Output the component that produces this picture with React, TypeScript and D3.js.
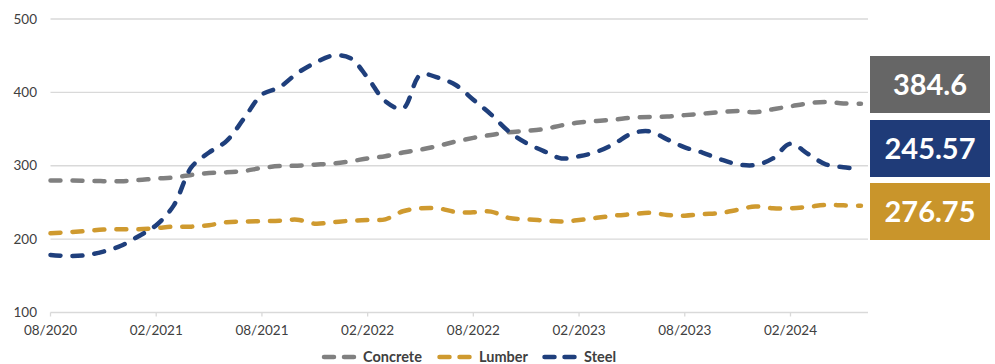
import React from "react";
import * as d3 from "d3";

// Monthly index values, 08/2020 through 06/2024
const startMonth = new Date(2020, 7, 1);
const concrete = [
  280, 280, 279.5, 279, 279, 280.5, 282.5, 284, 287.5, 290, 291, 293, 297, 299.5, 300, 301.5,
  303, 306, 310, 313, 318, 322, 327, 333, 338, 342, 345.5, 347.5, 350, 355, 359, 361,
  363, 365.5, 366.5, 367, 369, 371, 373, 374.5, 373, 377, 381, 385, 387, 385, 384.6,
];
const lumber = [
  208, 209.5, 211, 213, 213.5, 213.5, 215, 217, 217, 219, 223, 224, 224.5, 225, 226.5, 221,
  223, 225, 226, 227, 238, 242, 242, 237, 236.5, 237.5, 229, 227, 225.5, 224, 226, 229,
  232, 234, 236, 233, 232, 234, 235.5, 240, 244.5, 242, 242, 244, 246.5, 246, 245.57,
];
const steel = [
  178.5, 177, 178, 183, 191, 204, 219, 246, 298, 318, 334, 365, 397, 407, 426, 440,
  450, 447, 420, 388, 378, 424, 420, 410, 390, 370, 347, 331, 320, 310, 313, 319,
  330, 344, 347, 336, 325, 318, 309, 302, 301, 310, 330, 316, 302, 298, 295.5,
];

const seriesNames = ["Concrete", "Lumber", "Steel"];
const seriesColors = ["#808080", "#cf9a2f", "#1f3f7c"];
const yTicks = [100, 200, 300, 400, 500];
const xTickMonths = [0, 6, 12, 18, 24, 30, 36, 42];

// Callout boxes on the right
const calloutLabels = ["384.6", "245.57", "276.75"];
const calloutColors = ["#666666", "#1f3b78", "#c9952b"];

const W = 995;
const H = 364;
const FONT = "Lato, 'Open Sans', sans-serif";

function monthLabel(i: number) {
  const d = d3.timeMonth.offset(startMonth, i);
  return d3.timeFormat("%m/%Y")(d);
}

export default function App() {
  const x = d3.scaleLinear().domain([0, 46.4]).range([50.5, 868]);
  const y = d3.scaleLinear().domain([100, 500]).range([312.5, 19]);

  const line = d3
    .line<number>()
    .x((_, i) => x(i))
    .y((v) => y(v))
    .curve(d3.curveCatmullRom.alpha(0.5));

  const data = [concrete, lumber, steel];

  const legendItems = [
    { sym: 321.5, text: 363 },
    { sym: 437, text: 479 },
    { sym: 542, text: 584 },
  ];

  const boxTop = [56, 120, 183];

  return (
    <svg
      width={W}
      height={H}
      style={{ position: "absolute", left: 0, top: 0, background: "#fff" }}
      fontFamily={FONT}
    >
      {/* horizontal gridlines */}
      {yTicks.map((t) => (
        <line
          key={t}
          x1={x(0)}
          x2={x(46.4)}
          y1={y(t)}
          y2={y(t)}
          stroke="#d9d9d9"
          strokeWidth={1.3}
        />
      ))}
      {/* y labels */}
      {yTicks.map((t) => (
        <text
          key={t}
          x={37}
          y={y(t)}
          dy="0.35em"
          textAnchor="end"
          fontSize={13.5}
          fill="#404040"
        >
          {t}
        </text>
      ))}
      {/* x ticks and labels */}
      {xTickMonths.map((m) => (
        <g key={m}>
          <line x1={x(m)} x2={x(m)} y1={y(100)} y2={y(100) + 4} stroke="#d9d9d9" strokeWidth={1.3} />
          <text
            x={x(m)}
            y={335}
            textAnchor="middle"
            fontSize={13.5}
            fill="#404040"
          >
            {monthLabel(m)}
          </text>
        </g>
      ))}

      {/* series lines */}
      {data.map((vals, i) => (
        <path
          key={seriesNames[i]}
          d={line(vals) || ""}
          fill="none"
          stroke={seriesColors[i]}
          strokeWidth={4.5}
          strokeDasharray="10 12"
          strokeLinecap="round"
        />
      ))}

      {/* legend */}
      {seriesNames.map((n, i) => (
        <g key={n}>
          <line
            x1={legendItems[i].sym + 2.5}
            x2={legendItems[i].sym + 36}
            y1={357}
            y2={357}
            stroke={seriesColors[i]}
            strokeWidth={4.5}
            strokeDasharray="10 10"
            strokeLinecap="round"
          />
          <text
            x={legendItems[i].text}
            y={357}
            dy="0.36em"
            fontSize={14.5}
            fontWeight={700}
            fill="#404040"
          >
            {n}
          </text>
        </g>
      ))}

      {/* callout boxes */}
      {calloutLabels.map((lab, i) => (
        <g key={lab}>
          <rect x={870} y={boxTop[i]} width={120} height={57} fill={calloutColors[i]} />
          <text
            x={930}
            y={boxTop[i] + 28.5}
            dy="0.36em"
            textAnchor="middle"
            fontSize={29}
            fontWeight={700}
            fill="#ffffff"
          >
            {lab}
          </text>
        </g>
      ))}
    </svg>
  );
}
